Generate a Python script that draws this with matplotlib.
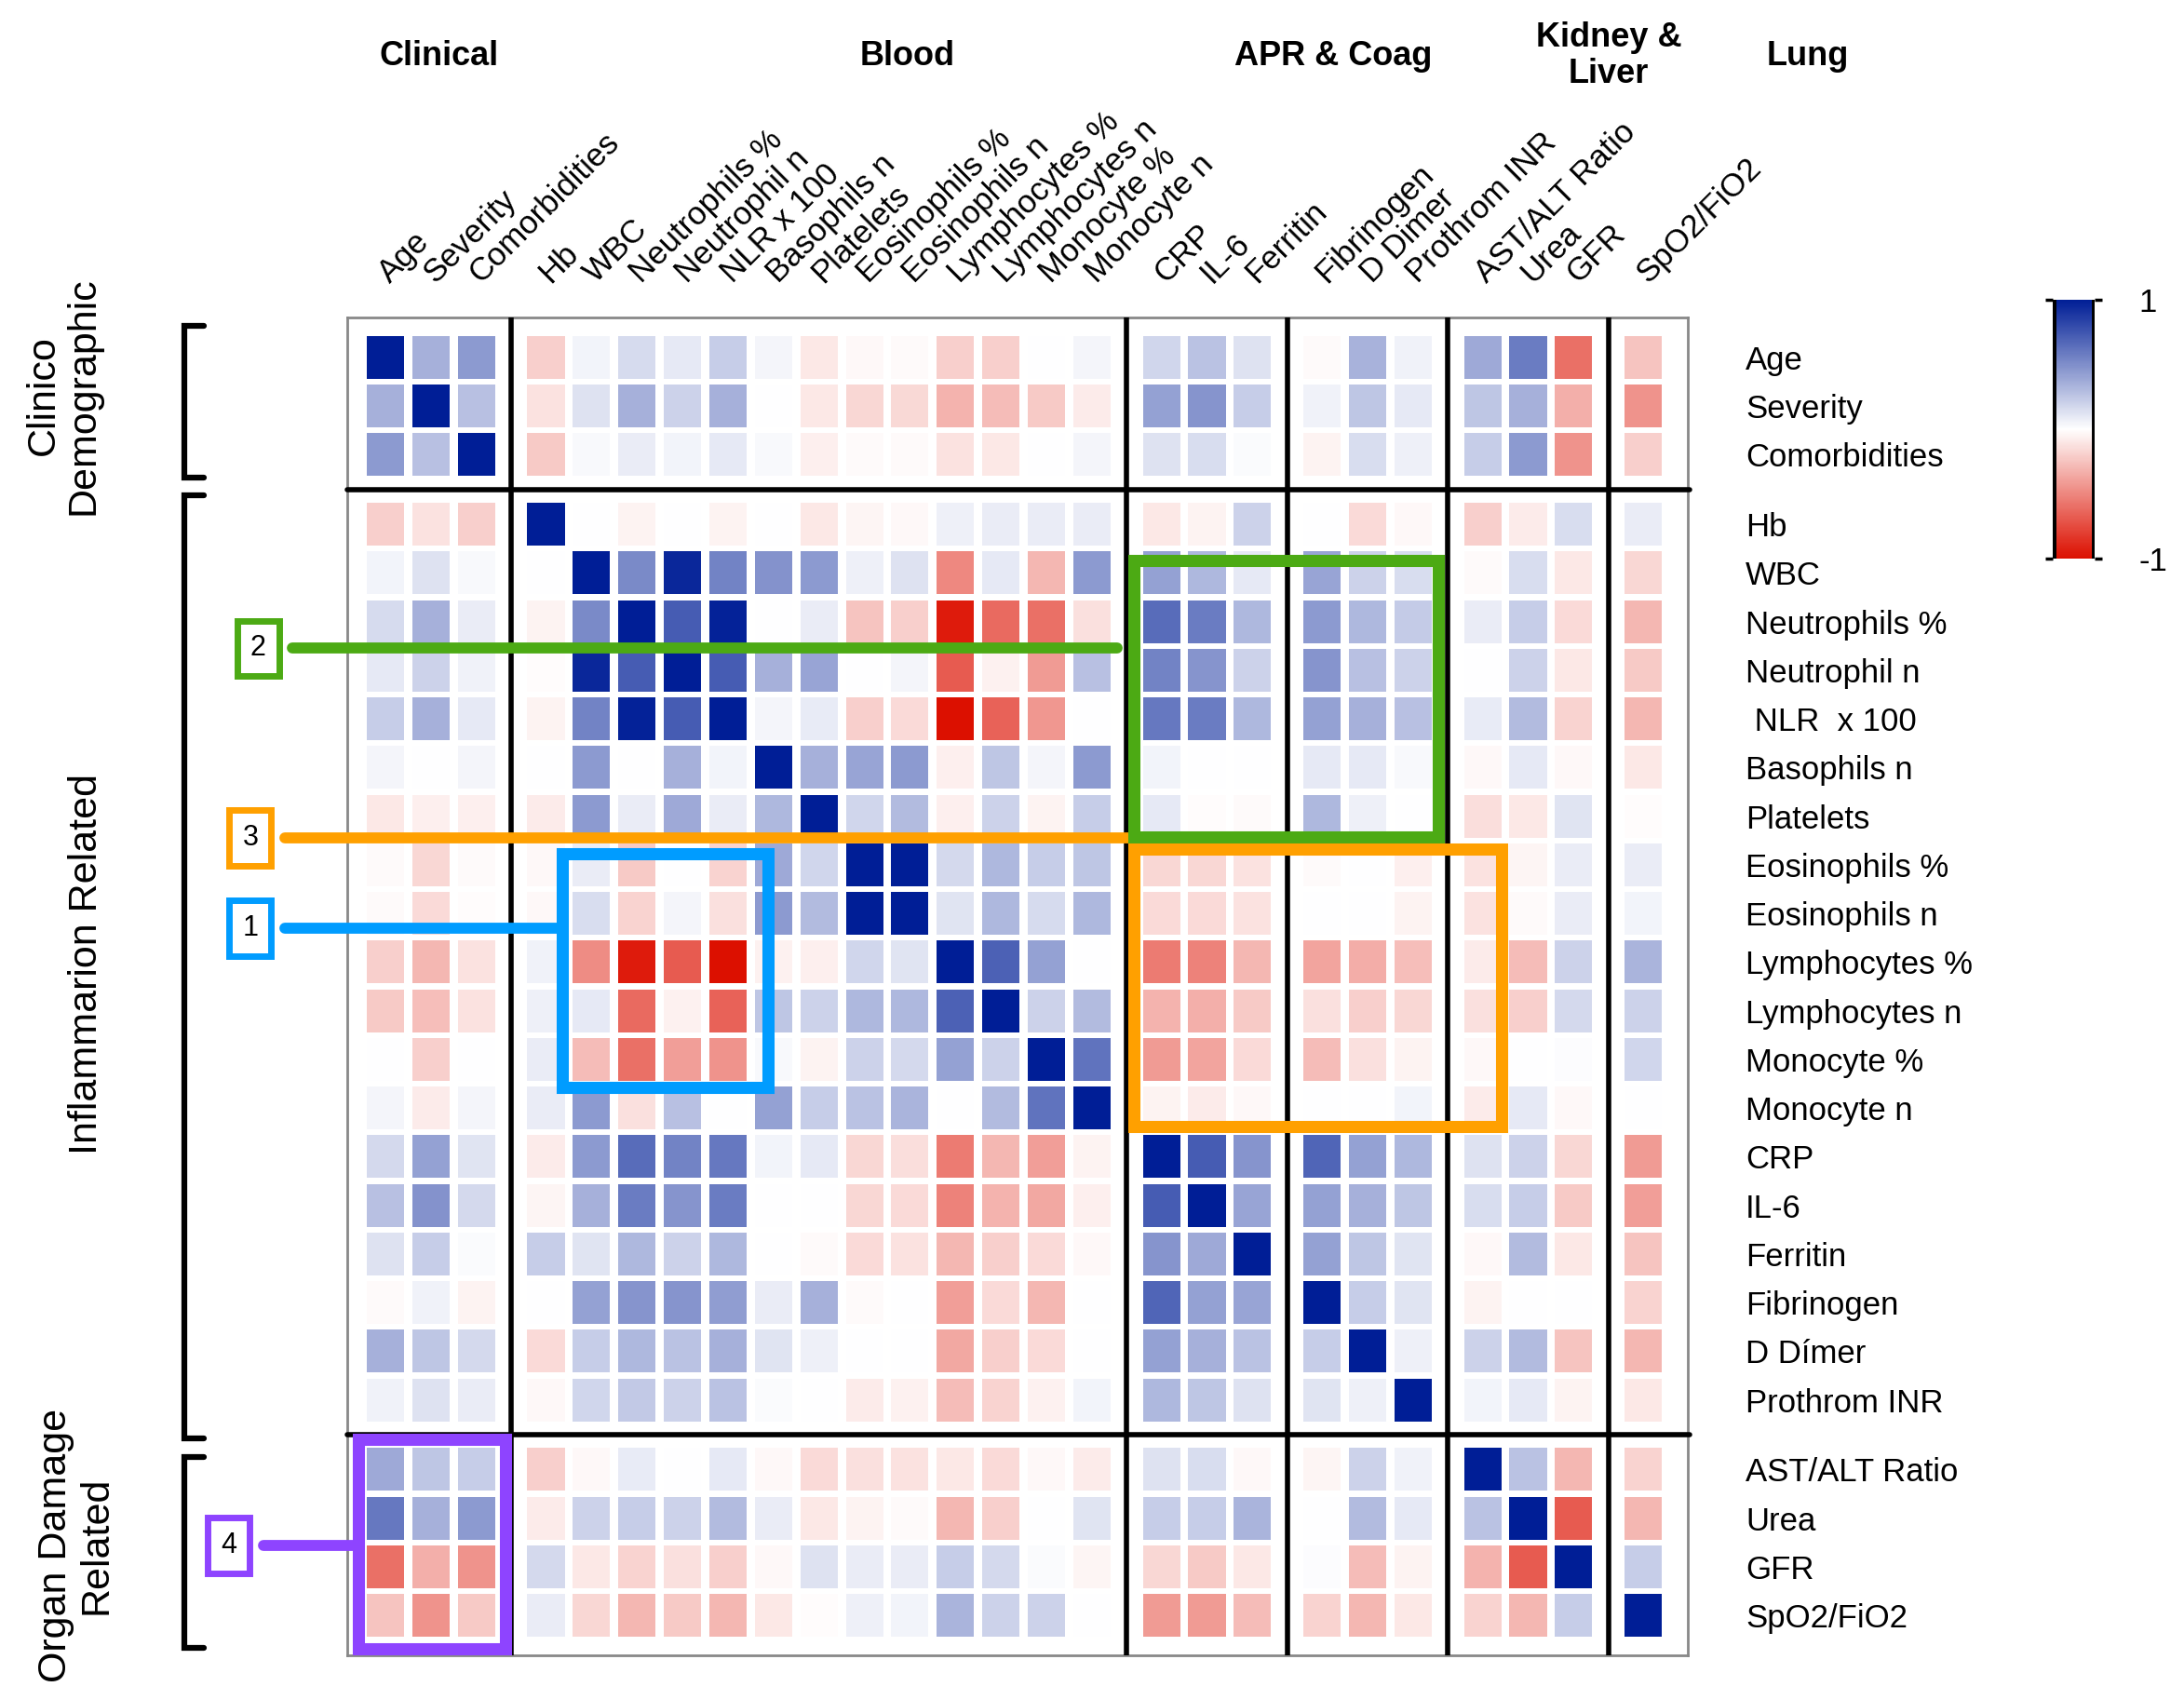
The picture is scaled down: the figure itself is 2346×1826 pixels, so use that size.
import numpy as np
import matplotlib.pyplot as plt
from matplotlib.colors import LinearSegmentedColormap, Normalize
from matplotlib.patches import Rectangle
from matplotlib.cm import ScalarMappable

plt.rcParams['font.family'] = ['Liberation Sans', 'DejaVu Sans']

W, H = 2346, 1826

col_labels = ['Age', 'Severity', 'Comorbidities', 'Hb', 'WBC', 'Neutrophils %', 'Neutrophil n',
              'NLR x 100', 'Basophils n', 'Platelets', 'Eosinophils %', 'Eosinophils n',
              'Lymphocytes %', 'Lymphocytes n', 'Monocyte %', 'Monocyte n', 'CRP', 'IL-6',
              'Ferritin', 'Fibrinogen', 'D Dimer', 'Prothrom INR', 'AST/ALT Ratio', 'Urea',
              'GFR', 'SpO2/FiO2']
row_labels = ['Age', 'Severity', 'Comorbidities', 'Hb', 'WBC', 'Neutrophils %', 'Neutrophil n',
              ' NLR  x 100', 'Basophils n', 'Platelets', 'Eosinophils %', 'Eosinophils n',
              'Lymphocytes %', 'Lymphocytes n', 'Monocyte %', 'Monocyte n', 'CRP', 'IL-6',
              'Ferritin', 'Fibrinogen', 'D Dímer', 'Prothrom INR', 'AST/ALT Ratio', 'Urea',
              'GFR', 'SpO2/FiO2']

# group sizes (columns / rows)
col_groups = [3, 13, 3, 3, 3, 1]
row_groups = [3, 19, 4]
header_labels = ['Clinical', 'Blood', 'APR & Coag', 'Kidney &\nLiver', 'Lung']
side_labels = ['Clinico\nDemographic', 'Inflammarion Related', 'Organ Damage\nRelated']

corr = np.array([
    [1.00, 0.35, 0.45, -0.20, 0.05, 0.16, 0.10, 0.22, 0.04, -0.10, -0.03, -0.02, -0.20, -0.20, 0.00, 0.04, 0.18, 0.27, 0.13, -0.02, 0.34, 0.06, 0.38, 0.58, -0.60, -0.25],
    [0.35, 1.00, 0.28, -0.12, 0.13, 0.35, 0.20, 0.35, 0.00, -0.10, -0.17, -0.16, -0.32, -0.28, -0.22, -0.08, 0.42, 0.47, 0.22, 0.06, 0.25, 0.10, 0.25, 0.35, -0.33, -0.45],
    [0.45, 0.28, 1.00, -0.22, 0.03, 0.08, 0.05, 0.10, 0.03, -0.07, -0.02, -0.02, -0.12, -0.10, 0.00, 0.04, 0.13, 0.15, 0.02, -0.05, 0.15, 0.07, 0.22, 0.45, -0.45, -0.20],
    [-0.20, -0.12, -0.20, 1.00, 0.00, -0.05, 0.00, -0.05, 0.00, -0.10, -0.04, -0.03, 0.07, 0.08, 0.08, 0.08, -0.10, -0.05, 0.20, 0.00, -0.15, -0.03, -0.20, -0.08, 0.15, 0.08],
    [0.05, 0.13, 0.03, 0.00, 1.00, 0.52, 0.96, 0.55, 0.48, 0.45, 0.07, 0.13, -0.50, 0.10, -0.30, 0.45, 0.42, 0.32, 0.10, 0.40, 0.20, 0.15, -0.02, 0.15, -0.10, -0.17],
    [0.16, 0.35, 0.08, -0.05, 0.52, 1.00, 0.72, 0.98, 0.00, 0.08, -0.25, -0.20, -0.95, -0.62, -0.60, -0.13, 0.65, 0.58, 0.32, 0.45, 0.32, 0.23, 0.08, 0.22, -0.15, -0.30],
    [0.10, 0.20, 0.06, -0.01, 0.96, 0.72, 1.00, 0.72, 0.35, 0.40, 0.00, 0.04, -0.68, -0.06, -0.42, 0.28, 0.55, 0.47, 0.20, 0.47, 0.28, 0.20, 0.00, 0.20, -0.10, -0.22],
    [0.22, 0.35, 0.10, -0.05, 0.55, 0.98, 0.72, 1.00, 0.04, 0.09, -0.20, -0.15, -1.00, -0.65, -0.43, 0.00, 0.60, 0.58, 0.32, 0.42, 0.35, 0.28, 0.09, 0.30, -0.18, -0.30],
    [0.04, 0.00, 0.04, 0.00, 0.45, 0.00, 0.35, 0.05, 1.00, 0.35, 0.40, 0.45, -0.07, 0.25, 0.04, 0.45, 0.05, 0.00, 0.00, 0.10, 0.10, 0.03, -0.03, 0.10, -0.03, -0.10],
    [-0.10, -0.07, -0.07, -0.08, 0.45, 0.08, 0.38, 0.08, 0.32, 1.00, 0.18, 0.30, -0.07, 0.20, -0.05, 0.22, 0.10, -0.01, -0.02, 0.32, 0.07, 0.00, -0.14, -0.10, 0.12, -0.01],
    [-0.02, -0.17, -0.02, -0.03, 0.08, -0.22, 0.00, -0.18, 0.38, 0.18, 1.00, 1.00, 0.17, 0.32, 0.22, 0.25, -0.17, -0.17, -0.12, -0.02, 0.00, -0.07, -0.12, -0.04, 0.08, 0.08],
    [-0.02, -0.15, -0.01, -0.03, 0.15, -0.18, 0.04, -0.13, 0.45, 0.30, 1.00, 1.00, 0.12, 0.32, 0.16, 0.32, -0.15, -0.15, -0.12, 0.00, 0.00, -0.05, -0.12, -0.02, 0.08, 0.05],
    [-0.20, -0.30, -0.12, 0.06, -0.48, -0.95, -0.68, -1.00, -0.06, -0.07, 0.18, 0.12, 1.00, 0.70, 0.42, 0.00, -0.55, -0.52, -0.30, -0.38, -0.34, -0.27, -0.08, -0.28, 0.20, 0.33],
    [-0.22, -0.27, -0.12, 0.07, 0.10, -0.62, -0.06, -0.65, 0.25, 0.20, 0.32, 0.32, 0.70, 1.00, 0.20, 0.30, -0.32, -0.33, -0.22, -0.13, -0.20, -0.17, -0.13, -0.20, 0.17, 0.20],
    [0.00, -0.20, 0.00, 0.08, -0.28, -0.60, -0.40, -0.45, 0.03, -0.05, 0.20, 0.17, 0.42, 0.20, 1.00, 0.62, -0.42, -0.38, -0.15, -0.28, -0.13, -0.05, -0.03, 0.00, 0.01, 0.18],
    [0.04, -0.08, 0.04, 0.08, 0.45, -0.13, 0.28, 0.00, 0.42, 0.22, 0.27, 0.33, 0.00, 0.30, 0.62, 1.00, -0.05, -0.08, -0.03, 0.00, 0.00, 0.05, -0.08, 0.10, -0.03, 0.00],
    [0.17, 0.42, 0.12, -0.08, 0.45, 0.65, 0.55, 0.60, 0.05, 0.10, -0.17, -0.14, -0.55, -0.30, -0.40, -0.05, 1.00, 0.72, 0.47, 0.68, 0.42, 0.32, 0.13, 0.20, -0.17, -0.42],
    [0.28, 0.48, 0.17, -0.04, 0.35, 0.58, 0.47, 0.58, 0.00, 0.00, -0.17, -0.15, -0.52, -0.32, -0.36, -0.07, 0.72, 1.00, 0.40, 0.42, 0.35, 0.25, 0.15, 0.22, -0.22, -0.40],
    [0.13, 0.22, 0.02, 0.22, 0.12, 0.32, 0.20, 0.32, 0.00, -0.02, -0.15, -0.12, -0.30, -0.20, -0.15, -0.03, 0.47, 0.38, 1.00, 0.42, 0.25, 0.12, -0.03, 0.30, -0.10, -0.25],
    [-0.02, 0.06, -0.05, 0.00, 0.42, 0.47, 0.47, 0.43, 0.08, 0.35, -0.02, 0.00, -0.40, -0.15, -0.30, 0.00, 0.68, 0.42, 0.40, 1.00, 0.22, 0.12, -0.05, 0.00, 0.00, -0.18],
    [0.35, 0.25, 0.17, -0.15, 0.22, 0.32, 0.27, 0.35, 0.12, 0.07, 0.00, 0.00, -0.36, -0.20, -0.15, 0.00, 0.42, 0.35, 0.27, 0.22, 1.00, 0.07, 0.20, 0.30, -0.25, -0.30],
    [0.06, 0.13, 0.08, -0.03, 0.18, 0.24, 0.20, 0.27, 0.02, 0.00, -0.08, -0.06, -0.28, -0.18, -0.06, 0.05, 0.32, 0.25, 0.13, 0.12, 0.07, 1.00, 0.05, 0.10, -0.05, -0.10],
    [0.38, 0.25, 0.22, -0.20, -0.03, 0.09, 0.00, 0.10, -0.03, -0.15, -0.13, -0.12, -0.10, -0.15, -0.03, -0.08, 0.13, 0.15, -0.03, -0.04, 0.20, 0.06, 1.00, 0.27, -0.30, -0.18],
    [0.60, 0.35, 0.45, -0.08, 0.20, 0.22, 0.20, 0.30, 0.08, -0.10, -0.05, -0.02, -0.30, -0.20, 0.00, 0.12, 0.22, 0.22, 0.33, 0.00, 0.30, 0.10, 0.27, 1.00, -0.68, -0.30],
    [-0.60, -0.33, -0.45, 0.17, -0.10, -0.18, -0.13, -0.20, -0.03, 0.13, 0.08, 0.08, 0.22, 0.17, 0.02, -0.04, -0.17, -0.22, -0.10, 0.01, -0.28, -0.05, -0.32, -0.68, 1.00, 0.22],
    [-0.25, -0.45, -0.22, 0.08, -0.17, -0.30, -0.22, -0.30, -0.10, -0.01, 0.07, 0.05, 0.33, 0.20, 0.20, 0.00, -0.42, -0.42, -0.28, -0.18, -0.30, -0.10, -0.18, -0.30, 0.22, 1.00],
])


def positions(sizes, gap):
    # cell centres, with an extra gap between groups
    pos = []
    k = 0
    for g, n in enumerate(sizes):
        for i in range(n):
            pos.append(k + g * gap)
            k += 1
    return np.array(pos, dtype=float)


xc = positions(col_groups, 0.53)
yc = positions(row_groups, 0.43)

cmap = LinearSegmentedColormap.from_list('rwb', ['#DC1000', '#FFFFFF', '#001E96'])
norm = Normalize(-1, 1)

fig = plt.figure(figsize=(W / 100, H / 100), dpi=100)
ax = fig.add_axes([373 / W, 1 - 1778 / H, 1440 / W, 1437 / H])
x0, x1 = -0.84, xc[-1] + 0.98
y0, y1 = -0.82, yc[-1] + 0.82
ax.set_xlim(x0, x1)
ax.set_ylim(y1, y0)
ax.set_xticks([])
ax.set_yticks([])
for s in ax.spines.values():
    s.set_color('#888888')
    s.set_linewidth(2)

cw, ch = 0.82, 0.88
for i in range(len(row_labels)):
    for j in range(len(col_labels)):
        ax.add_patch(Rectangle((xc[j] - cw / 2, yc[i] - ch / 2), cw, ch,
                               facecolor=cmap(norm(corr[i, j])), edgecolor='none'))

# group separators
starts = np.cumsum(col_groups)[:-1]
for s in starts:
    xb = (xc[s - 1] + xc[s]) / 2
    ax.plot([xb, xb], [y0, y1], color='k', lw=4, zorder=3)
starts = np.cumsum(row_groups)[:-1]
for s in starts:
    yb = (yc[s - 1] + yc[s]) / 2
    ax.plot([x0, x1 + 0.05], [yb, yb], color='k', lw=4, zorder=3,
            solid_capstyle='round', clip_on=False)

# labels
for j, lab in enumerate(col_labels):
    ax.text(xc[j] + 0.2, y0 - 0.6, lab, rotation=45, rotation_mode='anchor',
            ha='left', va='bottom', fontsize=25, clip_on=False)
for i, lab in enumerate(row_labels):
    ax.text(29.9, yc[i], lab, ha='left', va='center_baseline', fontsize=25, clip_on=False)

header_x = [472, 975, 1432, 1728, 1942]
for x, lab in zip(header_x, header_labels):
    fig.text(x / W, 1 - 60 / H, lab, ha='center', va='center', fontsize=26,
             fontweight='bold', linespacing=1.15)

side_pos = [(68, 425), (93, 1035), (82, 1660)]
for (x, y), lab in zip(side_pos, side_labels):
    fig.text(x / W, 1 - y / H, lab, rotation=90, ha='center', va='center',
             fontsize=31, multialignment='center', linespacing=1.1)

# brackets
bx, tip = -4.42, -4.0
for top, bot in [(-0.65, 2.47), (2.84, 22.22), (22.6, 26.53)]:
    ax.plot([tip, bx, bx, tip], [top, top, bot, bot], color='k', lw=4.5,
            clip_on=False, solid_capstyle='round', solid_joinstyle='miter')

# highlighted regions: number, colour, box centre, line y, line end, rectangle
annos = [
    ('2', '#4CAA14', -2.80, 5.98, 16.09, (16.45, 4.175, 23.15, 9.86)),
    ('3', '#FFA000', -2.97, 9.88, 16.45, (16.45, 10.11, 24.54, 15.81)),
    ('1', '#009CFF', -2.97, 11.73, 3.89, (3.89, 10.20, 8.41, 15.00)),
    ('4', '#8E44FF', -3.44, 24.42, -0.6, (-0.595, 22.24, 2.64, 26.55)),
]
for num, col, bxc, ly, lend, (rx0, ry0, rx1, ry1) in annos:
    ax.plot([bxc + 0.75, lend], [ly, ly], color=col, lw=8.5, solid_capstyle='round',
            clip_on=False, zorder=5)
    ax.add_patch(Rectangle((rx0, ry0), rx1 - rx0, ry1 - ry0, fill=False, edgecolor=col,
                           lw=9.4, joinstyle='miter', clip_on=False, zorder=6))
    ax.add_patch(Rectangle((bxc - 0.46, ly - 0.57), 0.92, 1.14, facecolor='white',
                           edgecolor=col, lw=5, clip_on=False, zorder=6))
    ax.text(bxc, ly, num, ha='center', va='center', fontsize=22, zorder=7, clip_on=False)

# colour bar
cax = fig.add_axes([2205 / W, 1 - 600 / H, 45 / W, 278 / H])
cb = fig.colorbar(ScalarMappable(norm=norm, cmap=cmap), cax=cax, ticks=[-1, 1])
cb.set_ticklabels(['-1', '1'])
cb.outline.set_visible(False)
cb.minorticks_off()
cax.axvline(0, color='k', lw=5)
cax.axvline(1, color='k', lw=5)
cax.tick_params(left=True, right=True, labelleft=False, labelright=True, length=6,
                width=2.5, direction='out', labelsize=25, pad=28)

fig.savefig('out.png', dpi=100)
